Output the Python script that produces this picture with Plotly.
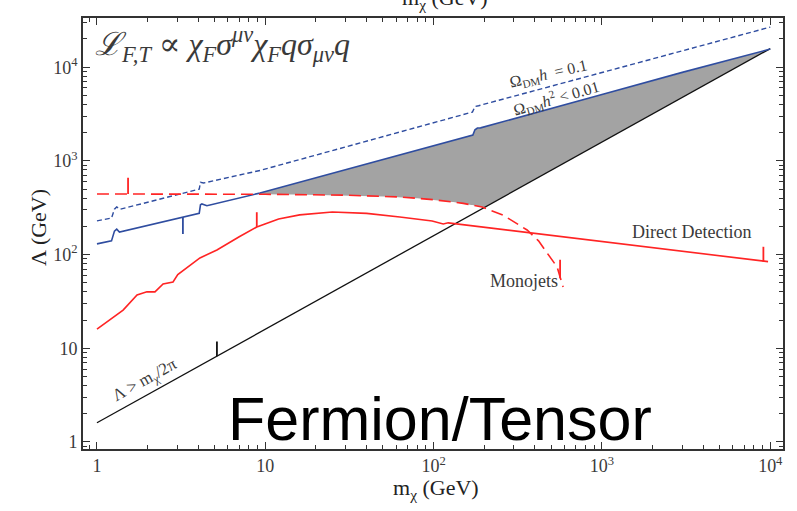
import numpy as np
import plotly.graph_objects as go

# ---------------- data ----------------
# perturbativity bound  Lambda > m/2pi  (black)
mchi_black = [1.0, 1.0e4]
lam_black = [1.6, 15800.0]

# relic density Omega h^2 < 0.01 (blue solid)
mchi_relic_solid = [1.0, 1.22, 1.27, 1.31, 1.36, 1.6, 2.0, 2.6, 3.24, 4.05, 4.12, 4.2, 4.5, 6.0,
                    9.3, 20.0, 63.0, 171.0, 176.0, 182.0, 190.0, 400.0, 1000.0, 3000.0, 10000.0]
lam_relic_solid = [130, 140, 178, 187, 174, 186, 205, 230, 252, 276, 340, 347, 332, 375,
                   454, 660, 1156, 1890, 2150, 2240, 2250, 3230, 5100, 8800, 15600]

# relic density Omega h^2 = 0.1 (blue dashed)
mchi_relic_dash = [1.0, 1.22, 1.27, 1.31, 1.37, 2.0, 3.0, 4.05, 4.12, 4.3, 9.3, 63.0,
                   170.0, 176.0, 185.0, 1000.0, 10000.0]
lam_relic_dash = [229, 245, 305, 322, 304, 360, 430, 500, 590, 580, 790, 2040,
                  3320, 3800, 3880, 8770, 26800]

# monojet bound (red dashed)
mchi_mono = [1.0, 10.0, 30.0, 63.0, 100.0, 150.0, 194.0, 260.0, 359.0, 420.0, 472.0, 541.0, 588.0]
lam_mono = [443, 440, 430, 412, 385, 352, 322, 262, 183, 140, 104, 74, 45]

# direct detection bound (red solid)
mchi_dd = [1.0, 1.19, 1.43, 1.73, 1.98, 2.21, 2.47, 2.83, 3.02, 4.09, 5.16, 7.0, 8.9, 12.0,
           16.0, 25.0, 40.0, 63.0, 98.0, 114.0, 122.0, 9700.0]
lam_dd = [16, 20, 25.5, 37, 40, 40, 48.5, 51, 61, 92, 112, 155, 197, 240,
          265, 285, 275, 252, 228, 212, 218, 84]

# small vertical markers on the curves: (x, y_from, y_to, colour key)
marker_x = [1.53, 564.0, 8.9, 9100.0, 3.24, 5.16]
marker_y0 = [443, 56, 197, 84, 252, 8.2]
marker_y1 = [660, 88, 283, 121, 166, 11.8]
marker_key = ["red", "red", "red", "red", "blue", "black"]

x_tickvals = [1, 10, 100, 1000, 10000]
x_ticktext = ["1", "10", "10<sup>2</sup>", "10<sup>3</sup>", "10<sup>4</sup>"]
y_tickvals = [1, 10, 100, 1000, 10000]
y_ticktext = ["1", "10", "10<sup>2</sup>", "10<sup>3</sup>", "10<sup>4</sup>"]

# ---------------- styling ----------------
RED = "#ff2424"
BLUE = "#2f4da0"
BLACK = "#111111"
GRAY = "#a3a3a3"
TXT = "#3a3a3a"
SERIF = "Liberation Serif, DejaVu Serif, serif"
colors = {"red": RED, "blue": BLUE, "black": BLACK}

fig = go.Figure()

# ---- shaded allowed region: below blue solid, above max(monojet, black) ----
lx = np.linspace(0.0, 4.0, 600)
up = np.interp(lx, np.log10(mchi_relic_solid), np.log10(lam_relic_solid))
lo_mono = np.interp(lx, np.log10(mchi_mono), np.log10(lam_mono), right=-10)
lo_black = np.interp(lx, np.log10(mchi_black), np.log10(lam_black))
lo = np.maximum(lo_mono, lo_black)
m = up > lo
fx = np.concatenate([lx[m], lx[m][::-1]])
fy = np.concatenate([up[m], lo[m][::-1]])
fig.add_trace(go.Scatter(x=10 ** fx, y=10 ** fy, fill="toself", fillcolor=GRAY,
                         line=dict(width=0), mode="lines", hoverinfo="skip"))

fig.add_trace(go.Scatter(x=mchi_black, y=lam_black, mode="lines",
                         line=dict(color=BLACK, width=1.3)))
fig.add_trace(go.Scatter(x=mchi_relic_dash, y=lam_relic_dash, mode="lines",
                         line=dict(color=BLUE, width=1.4, dash="5px,3px")))
fig.add_trace(go.Scatter(x=mchi_relic_solid, y=lam_relic_solid, mode="lines",
                         line=dict(color=BLUE, width=1.6)))
fig.add_trace(go.Scatter(x=mchi_mono, y=lam_mono, mode="lines",
                         line=dict(color=RED, width=1.6, dash="12px,6px")))
fig.add_trace(go.Scatter(x=mchi_dd, y=lam_dd, mode="lines",
                         line=dict(color=RED, width=1.6)))
for xm, a, b, k in zip(marker_x, marker_y0, marker_y1, marker_key):
    fig.add_trace(go.Scatter(x=[xm, xm], y=[a, b], mode="lines",
                             line=dict(color=colors[k], width=1.8)))

# ---------------- axes ----------------
def minor_vals(lo_dec, hi_dec):
    return [k * 10 ** d for d in range(lo_dec, hi_dec) for k in range(2, 10)]

axis_common = dict(
    type="log", showgrid=False, zeroline=False, showline=True, linecolor="#333",
    linewidth=1.6, mirror="allticks", ticks="inside", ticklen=7, tickwidth=1.3,
    tickcolor="#333", tickfont=dict(family=SERIF, size=18, color=TXT), automargin=False,
)
fig.update_xaxes(**axis_common, range=[np.log10(0.826), np.log10(11900)],
                 tickvals=x_tickvals, ticktext=x_ticktext,
                 minor=dict(ticks="inside", ticklen=4, tickwidth=1, tickcolor="#333",
                            tickvals=minor_vals(-1, 5), showgrid=False))
fig.update_yaxes(**axis_common, range=[np.log10(0.84), np.log10(33500)],
                 tickvals=y_tickvals, ticktext=y_ticktext,
                 minor=dict(ticks="inside", ticklen=4, tickwidth=1, tickcolor="#333",
                            tickvals=minor_vals(-1, 5), showgrid=False))

# ---------------- text ----------------
def px2paper(px, py):
    return (px - 83) / 700.0, (449 - py) / 431.0

def add_text(text, px, py, size, angle=0, color=TXT, family=SERIF, xanchor="center"):
    x, y = px2paper(px, py)
    fig.add_annotation(text=text, x=x, y=y, xref="paper", yref="paper", showarrow=False,
                       textangle=angle, xanchor=xanchor, yanchor="middle",
                       font=dict(family=family, size=size, color=color))

add_text("<i>ℒ<sub>F,T</sub></i> ∝ <i>χ<sub>F</sub>σ<sup>μν</sup>χ<sub>F</sub>qσ<sub>μν</sub>q</i>",
         93, 44, 32, xanchor="left")
add_text("Ω<sub>DM</sub><i>h</i>  = 0.1", 548, 74, 16, angle=-13)
add_text("Ω<sub>DM</sub><i>h</i><sup>2</sup> < 0.01", 556, 98, 16, angle=-16)
add_text("Direct Detection", 691, 232, 18)
add_text("Monojets", 524, 281, 18)
add_text("Λ > m<sub>χ</sub>/2π", 145, 381, 17, angle=-29)
add_text("Fermion/Tensor", 440, 419, 61, color="#000", family="Liberation Sans, Arial, sans-serif")
add_text("m<sub>χ</sub> (GeV)", 436, 489, 22, color="#222")
add_text("Λ (GeV)", 38, 228, 22, angle=-90, color="#222")
add_text("m<sub>χ</sub> (GeV)", 445, -1, 22, color="#222")

fig.update_layout(
    width=797, height=511, showlegend=False,
    margin=dict(l=83, r=14, t=18, b=62),
    paper_bgcolor="white", plot_bgcolor="white",
)

fig.write_html("out.html", config={"displayModeBar": False},
               post_script="document.body.style.margin='0px';document.body.style.overflow='hidden';")
